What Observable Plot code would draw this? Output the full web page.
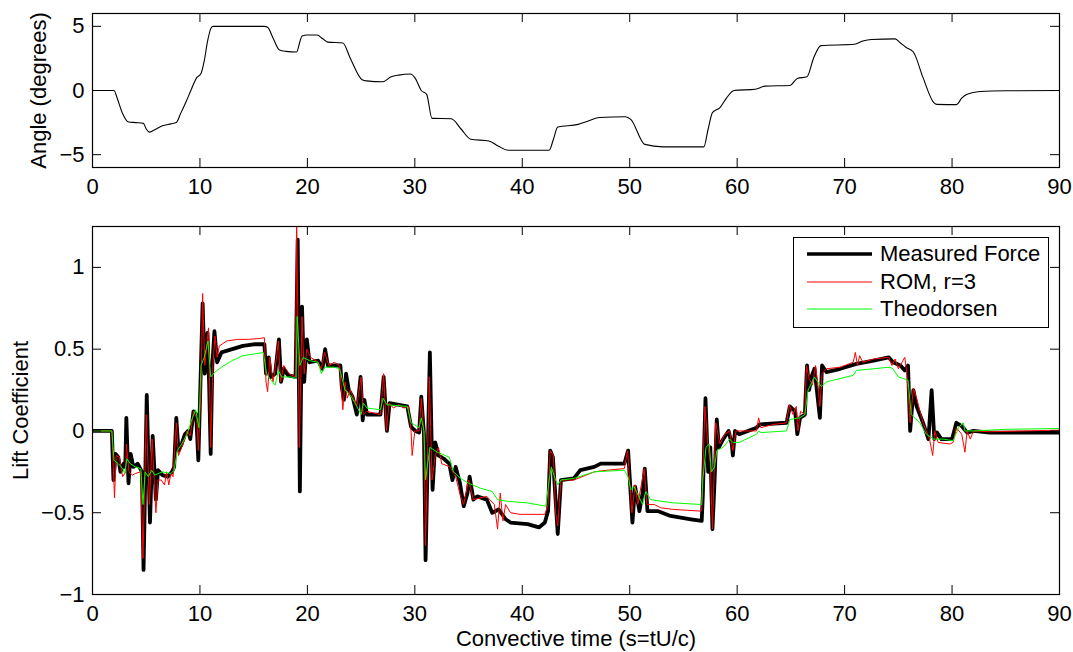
<!DOCTYPE html>
<html><head><meta charset="utf-8">
<script src="https://cdn.jsdelivr.net/npm/d3@7"></script>
<script src="https://cdn.jsdelivr.net/npm/@observablehq/plot@0.6"></script>
<style>
body{margin:0;background:#fff;font-family:"Liberation Sans",Arial,sans-serif;}
#wrap{position:relative;width:1073px;height:652px;overflow:hidden;background:#fff;}
#top{position:absolute;left:0;top:0;}
#bot{position:absolute;left:0;top:200px;}
#legend{position:absolute;left:793px;top:237px;width:256px;height:91px;box-sizing:border-box;border:1.5px solid #000;background:#fff;}
#legend svg{position:absolute;left:0;top:0;}
#legend .lb{position:absolute;left:86px;height:24px;line-height:24px;font-size:22px;color:#000;white-space:nowrap;}
</style></head>
<body><div id="wrap"><div id="top"></div><div id="bot"></div>
<div id="legend">
<svg width="90" height="88"><line x1="13" x2="78" y1="16" y2="16" stroke="#000" stroke-width="3.5"/><line x1="13" x2="78" y1="44" y2="44" stroke="#ff0000" stroke-width="1"/><line x1="13" x2="78" y1="71" y2="71" stroke="#00ff00" stroke-width="1"/></svg>
<div class="lb" style="top:4px">Measured Force</div>
<div class="lb" style="top:32px">ROM, r=3</div>
<div class="lb" style="top:59px">Theodorsen</div>
</div></div>
<script>
const xTicks = [0,10,20,30,40,50,60,70,80,90];
const angleTicks = [-5,0,5];
const liftTicks = [-1,-0.5,0,0.5,1];

const angle = [[0,0],[2.0,0],[2.3,-0.6],[2.8,-1.8],[3.3,-2.43],[4.0,-2.5],[4.74,-2.56],[5.0,-3.0],[5.3,-3.24],[5.7,-3.1],[6.5,-2.75],[7.3,-2.6],[7.8,-2.5],[8.2,-1.8],[8.75,-0.8],[9.2,0.1],[9.7,1.0],[10.1,1.33],[10.4,2.3],[10.7,3.8],[11.0,4.8],[11.2,5.0],[16.0,5.0],[16.3,4.93],[16.8,4.1],[17.4,3.15],[18.0,3.05],[19.0,3.0],[19.3,3.8],[19.5,4.25],[20.0,4.33],[20.9,4.33],[21.4,4.05],[21.9,3.77],[23.3,3.7],[24.0,2.5],[25.1,0.84],[25.5,0.75],[27.0,0.68],[27.8,1.07],[28.5,1.2],[29.6,1.28],[30.0,1.0],[30.6,0],[31.1,-0.3],[31.6,-2.17],[33.4,-2.2],[34.3,-3.0],[35.2,-3.8],[36.9,-3.94],[37.8,-4.35],[38.7,-4.65],[42.5,-4.65],[42.9,-3.8],[43.3,-2.85],[45.2,-2.64],[46.2,-2.35],[47.2,-2.1],[49.6,-2.04],[50.1,-2.25],[51.4,-4.2],[53.1,-4.39],[56.9,-4.39],[57.3,-3.0],[57.7,-1.72],[58.4,-1.33],[59.0,-0.6],[59.7,0],[61.7,0.1],[62.6,0.34],[64.9,0.39],[65.6,0.94],[66.5,1.07],[67.1,2.5],[67.8,3.5],[70.9,3.6],[71.7,3.85],[72.5,3.97],[74.7,4.02],[75.2,3.7],[75.7,3.37],[76.4,3.0],[77.3,1.0],[78.3,-0.94],[78.6,-1.08],[80.4,-1.1],[80.9,-0.6],[81.4,-0.3],[82.6,-0.08],[85,-0.02],[90,0]];

const measured = [[0,0],[1.8,0],[1.95,-0.3],[2.15,-0.14],[2.4,-0.16],[2.6,-0.25],[2.9,-0.2],[3.05,-0.22],[3.15,0.08],[3.35,-0.32],[3.55,-0.14],[3.8,-0.22],[4.2,-0.2],[4.6,-0.25],[4.75,-0.85],[5.05,0.22],[5.35,-0.56],[5.6,-0.03],[5.9,-0.42],[6.1,-0.24],[6.5,-0.27],[7.0,-0.28],[7.4,-0.25],[7.6,-0.22],[7.8,0.08],[8.0,-0.12],[8.3,-0.08],[8.6,-0.02],[8.9,0.0],[9.1,-0.05],[9.4,0.12],[9.65,0.1],[9.85,-0.18],[10.05,0.3],[10.25,0.78],[10.45,0.35],[10.7,0.6],[10.85,0.3],[11.0,-0.14],[11.15,0.4],[11.35,0.61],[11.6,0.42],[12.0,0.48],[13.0,0.5],[14.0,0.52],[15.0,0.53],[16.0,0.53],[16.15,0.35],[16.4,0.45],[16.6,0.33],[17.0,0.35],[17.35,0.56],[17.55,0.3],[17.8,0.38],[18.2,0.34],[18.9,0.33],[19.1,1.17],[19.3,-0.37],[19.5,0.76],[19.7,0.3],[19.95,0.56],[20.2,0.42],[21.0,0.43],[21.4,0.38],[21.65,0.5],[21.9,0.4],[22.5,0.4],[23.07,0.4],[23.2,0.27],[23.4,0.19],[23.6,0.35],[23.85,0.25],[24.2,0.21],[24.6,0.1],[24.95,0.33],[25.15,0.065],[25.3,0.19],[25.55,0.1],[26.8,0.1],[27.1,0.33],[27.4,0.0],[27.65,0.17],[29.3,0.15],[29.65,0.025],[30.05,0.0],[30.4,-0.01],[30.6,0.21],[30.85,-0.02],[31.0,-0.79],[31.4,0.48],[31.65,-0.36],[31.9,-0.07],[32.2,-0.15],[32.7,-0.17],[33.2,-0.2],[33.5,-0.3],[33.8,-0.22],[34.2,-0.32],[34.55,-0.46],[34.9,-0.38],[35.1,-0.28],[35.45,-0.42],[35.8,-0.4],[36.7,-0.42],[37.2,-0.5],[37.8,-0.48],[38.45,-0.54],[38.9,-0.56],[40.5,-0.57],[41.55,-0.59],[42.1,-0.56],[42.4,-0.49],[42.6,-0.12],[42.85,-0.16],[43.1,-0.42],[43.3,-0.63],[43.6,-0.3],[44.8,-0.29],[45.4,-0.24],[46.7,-0.22],[47.3,-0.2],[49.5,-0.2],[49.85,-0.12],[50.25,-0.56],[50.5,-0.34],[50.9,-0.49],[51.2,-0.38],[51.4,-0.23],[51.65,-0.49],[52.6,-0.49],[53.8,-0.52],[55.7,-0.54],[56.7,-0.55],[56.8,-0.4],[57.05,0.2],[57.3,-0.25],[57.5,-0.1],[57.7,-0.6],[57.9,-0.3],[58.1,0.07],[58.3,-0.1],[58.7,-0.05],[59.2,0.0],[59.5,-0.08],[59.6,-0.15],[59.8,0.0],[60.2,-0.02],[61.8,0.02],[62.1,0.04],[64.6,0.05],[64.9,0.15],[65.4,0.12],[65.6,-0.02],[65.85,0.08],[66.3,0.1],[66.5,0.4],[66.7,0.25],[66.9,0.33],[67.2,0.38],[67.7,0.08],[67.9,0.4],[68.3,0.36],[69.6,0.38],[71.1,0.41],[72.7,0.43],[74.1,0.45],[74.5,0.42],[75.2,0.4],[75.6,0.37],[75.9,0.4],[76.1,0.0],[76.4,0.25],[76.7,0.15],[77.3,0.05],[77.8,-0.05],[78.1,0.25],[78.35,-0.05],[78.6,-0.01],[79.0,-0.05],[80.0,-0.05],[80.4,0.05],[80.9,0.03],[81.4,-0.01],[82.0,0.0],[83.5,-0.01],[90,-0.01]];

const rom = [[0,0],[1.8,0],[2.05,-0.41],[2.2,-0.15],[2.5,-0.16],[2.8,-0.28],[3.1,-0.25],[3.15,-0.08],[3.4,-0.25],[3.7,-0.27],[4.0,-0.26],[4.5,-0.25],[4.7,-0.78],[5.0,0.1],[5.3,-0.45],[5.55,-0.05],[5.9,-0.5],[6.1,-0.3],[6.4,-0.3],[6.7,-0.33],[6.9,-0.25],[7.1,-0.33],[7.3,-0.26],[7.5,-0.28],[7.8,0.05],[8.0,-0.15],[8.3,-0.1],[8.6,-0.05],[8.8,0.0],[9.1,-0.03],[9.4,0.12],[9.7,0.08],[9.85,-0.12],[10.1,0.25],[10.25,0.84],[10.45,0.4],[10.6,0.5],[10.8,0.63],[11.0,-0.1],[11.2,0.4],[11.4,0.58],[11.6,0.45],[11.8,0.52],[12.5,0.55],[13.5,0.56],[14.5,0.56],[15.5,0.565],[16.0,0.57],[16.15,0.3],[16.3,0.24],[16.5,0.45],[16.8,0.3],[17.0,0.38],[17.3,0.55],[17.5,0.3],[17.8,0.4],[18.3,0.35],[18.9,0.33],[19.0,1.3],[19.25,-0.1],[19.5,0.7],[19.7,0.35],[19.95,0.5],[20.3,0.45],[21.0,0.42],[21.3,0.38],[21.6,0.48],[22.0,0.4],[22.5,0.42],[23.0,0.4],[23.3,0.13],[23.5,0.3],[23.7,0.2],[24.0,0.25],[24.3,0.2],[24.6,0.15],[25.0,0.33],[25.2,0.1],[25.5,0.12],[26.8,0.1],[27.1,0.35],[27.35,0.0],[27.6,0.17],[28.0,0.14],[28.5,0.16],[29.0,0.14],[29.4,0.15],[29.65,0.0],[29.75,-0.15],[30.0,0.0],[30.4,0.0],[30.6,0.2],[30.85,-0.02],[31.0,-0.7],[31.35,0.33],[31.6,-0.3],[31.9,-0.15],[32.2,-0.1],[32.5,-0.2],[33.3,-0.22],[33.8,-0.28],[34.25,-0.4],[34.55,-0.45],[35.0,-0.3],[35.45,-0.42],[36.7,-0.4],[37.4,-0.45],[37.7,-0.6],[37.95,-0.38],[38.2,-0.55],[38.45,-0.45],[38.9,-0.5],[39.8,-0.51],[42.1,-0.51],[42.4,-0.45],[42.6,-0.12],[42.9,-0.15],[43.1,-0.5],[43.3,-0.58],[43.6,-0.3],[44.8,-0.3],[46.7,-0.25],[47.9,-0.24],[49.5,-0.23],[49.8,-0.12],[50.2,-0.5],[50.5,-0.33],[50.75,-0.45],[51.35,-0.23],[51.6,-0.45],[52.3,-0.45],[52.9,-0.47],[54.1,-0.48],[56.6,-0.49],[56.7,-0.485],[57.0,0.15],[57.3,-0.1],[57.5,-0.2],[57.7,-0.6],[58.0,0.05],[58.4,-0.08],[58.85,-0.02],[59.3,0.0],[59.6,-0.12],[59.9,0.0],[61.8,0.0],[62.0,0.08],[62.2,0.02],[63.4,0.04],[64.6,0.05],[64.85,0.16],[65.2,0.1],[65.5,0.15],[65.65,0.0],[65.9,0.12],[66.3,0.1],[66.45,0.4],[66.7,0.32],[67.0,0.28],[67.3,0.4],[67.7,0.15],[67.9,0.35],[68.3,0.38],[69.6,0.39],[70.8,0.42],[71.0,0.48],[71.2,0.4],[71.4,0.46],[71.7,0.42],[72.7,0.44],[74.1,0.45],[74.4,0.4],[74.7,0.44],[75.0,0.38],[75.6,0.45],[75.8,0.35],[76.1,0.05],[76.4,0.26],[76.7,0.2],[77.3,0.05],[77.9,-0.05],[78.2,-0.15],[78.4,0.0],[78.7,-0.07],[79.8,-0.08],[80.1,-0.07],[80.4,0.02],[80.9,-0.02],[81.2,-0.13],[81.4,0.0],[81.7,-0.05],[82.0,0.0],[83.5,-0.005],[90,0.005]];

const theodorsen = [[0,0],[1.8,0],[2.0,-0.18],[2.4,-0.2],[2.8,-0.23],[3.0,-0.26],[3.2,-0.17],[3.5,-0.2],[4.0,-0.22],[4.5,-0.23],[4.7,-0.45],[4.9,-0.25],[5.2,-0.28],[5.5,-0.24],[5.8,-0.27],[6.5,-0.25],[7.3,-0.26],[7.6,-0.24],[7.9,-0.12],[8.3,-0.08],[8.8,-0.02],[9.3,0.08],[9.6,0.13],[9.9,0.02],[10.1,0.4],[10.4,0.45],[10.75,0.55],[11.0,0.33],[11.4,0.36],[12.0,0.39],[13.0,0.43],[14.0,0.46],[15.0,0.47],[15.9,0.48],[16.2,0.35],[16.5,0.32],[17.0,0.28],[17.3,0.37],[17.6,0.33],[18.5,0.33],[18.95,0.32],[19.05,0.7],[19.3,0.4],[19.6,0.45],[20.2,0.43],[21.0,0.42],[21.3,0.35],[21.6,0.39],[22.5,0.39],[23.0,0.38],[23.5,0.25],[24.0,0.22],[24.6,0.15],[25.0,0.1],[25.2,0.17],[25.55,0.14],[26.8,0.13],[27.05,0.2],[27.4,0.16],[29.3,0.15],[29.65,0.05],[30.4,0.02],[30.6,0.08],[30.85,0.0],[31.0,-0.3],[31.4,-0.1],[32.1,-0.13],[33.2,-0.16],[33.6,-0.25],[34.25,-0.29],[35.0,-0.32],[36.1,-0.35],[37.2,-0.37],[37.7,-0.42],[38.6,-0.43],[40.5,-0.44],[42.2,-0.46],[42.5,-0.3],[42.7,-0.22],[43.1,-0.3],[43.3,-0.33],[43.6,-0.3],[44.8,-0.29],[46.7,-0.25],[49.5,-0.24],[49.85,-0.28],[50.1,-0.36],[50.4,-0.34],[51.2,-0.45],[51.5,-0.37],[51.95,-0.42],[52.9,-0.43],[54.1,-0.44],[56.7,-0.45],[56.8,-0.3],[57.1,-0.1],[57.4,-0.08],[57.6,-0.25],[57.9,-0.22],[58.1,-0.12],[58.7,-0.1],[59.3,-0.05],[59.6,-0.07],[60.2,-0.07],[61.8,-0.02],[62.0,0.0],[62.2,-0.01],[64.6,0.0],[64.9,0.07],[65.8,0.08],[66.3,0.1],[66.6,0.25],[67.2,0.33],[67.5,0.3],[67.85,0.27],[68.3,0.3],[70.8,0.34],[71.1,0.37],[74.2,0.39],[74.5,0.38],[75.0,0.33],[75.5,0.32],[75.9,0.31],[76.2,0.1],[77.0,0.05],[77.6,-0.02],[78.3,-0.05],[79.2,-0.05],[80.1,-0.06],[80.6,0.02],[81.05,0.05],[81.2,0.0],[82.0,0.0],[85.0,0.01],[90,0.015]];

const fmt = d => d < 0 ? "\u2212" + Math.abs(d) : String(d);
const FONT = '"Liberation Sans", Arial, Helvetica, sans-serif';
const W = 1073, ML = 92, MR = 14, TL = 9;

function inward(innerW, innerH, yt) {
  return [
    Plot.tickX(xTicks, {x: d => d, insetTop: innerH - TL, stroke: "black"}),
    Plot.tickX(xTicks, {x: d => d, insetBottom: innerH - TL, stroke: "black"}),
    Plot.tickY(yt, {y: d => d, insetRight: innerW - TL, stroke: "black"}),
    Plot.tickY(yt, {y: d => d, insetLeft: innerW - TL, stroke: "black"})
  ];
}

// Top chart
{
  const H = 200, MT = 13, MB = 33;
  const chart = Plot.plot({
    width: W, height: H, marginTop: MT, marginBottom: MB, marginLeft: ML, marginRight: MR,
    style: {fontFamily: FONT, fontSize: "22px", background: "white", color: "black", overflow: "visible"},
    x: {domain: [0, 90], ticks: xTicks, tickSize: 0, tickPadding: 11, tickFormat: fmt, label: null},
    y: {domain: [-6, 6], ticks: angleTicks, tickSize: 0, tickPadding: 8, tickFormat: fmt, label: null},
    marks: [
      Plot.line(angle, {x: d => d[0], y: d => d[1], stroke: "black", strokeWidth: 1.1, curve: "monotone-x"}),
      ...inward(W - ML - MR, H - MT - MB, angleTicks),
      Plot.frame({stroke: "black", strokeWidth: 1.2}),
      Plot.text(["Angle (degrees)"], {frameAnchor: "left", rotate: -90, dx: -54, textAnchor: "middle", lineAnchor: "middle", fontSize: 22})
    ]
  });
  document.getElementById("top").appendChild(chart);
}

// Bottom chart
{
  const H = 452, MT = 26, MB = 58;
  const chart = Plot.plot({
    width: W, height: H, marginTop: MT, marginBottom: MB, marginLeft: ML, marginRight: MR,
    style: {fontFamily: FONT, fontSize: "22px", background: "white", color: "black", overflow: "visible"},
    x: {domain: [0, 90], ticks: xTicks, tickSize: 0, tickPadding: 11, tickFormat: fmt, label: null},
    y: {domain: [-1, 1.25], ticks: liftTicks, tickSize: 0, tickPadding: 8, tickFormat: fmt, label: null},
    marks: [
      Plot.line(measured, {x: d => d[0], y: d => d[1], stroke: "black", strokeWidth: 3.8, strokeLinejoin: "round", clip: true}),
      Plot.line(rom, {x: d => d[0], y: d => d[1], stroke: "#ff0000", strokeWidth: 1, clip: true}),
      Plot.line(theodorsen, {x: d => d[0], y: d => d[1], stroke: "#00ff00", strokeWidth: 1, clip: true}),
      ...inward(W - ML - MR, H - MT - MB, liftTicks),
      Plot.frame({stroke: "black", strokeWidth: 1.2}),
      Plot.text(["Lift Coefficient"], {frameAnchor: "left", rotate: -90, dx: -72, textAnchor: "middle", lineAnchor: "middle", fontSize: 22}),
      Plot.text(["Convective time (s=tU/c)"], {frameAnchor: "bottom", dy: 44, textAnchor: "middle", lineAnchor: "middle", fontSize: 22})
    ]
  });
  document.getElementById("bot").appendChild(chart);
}
</script></body></html>
